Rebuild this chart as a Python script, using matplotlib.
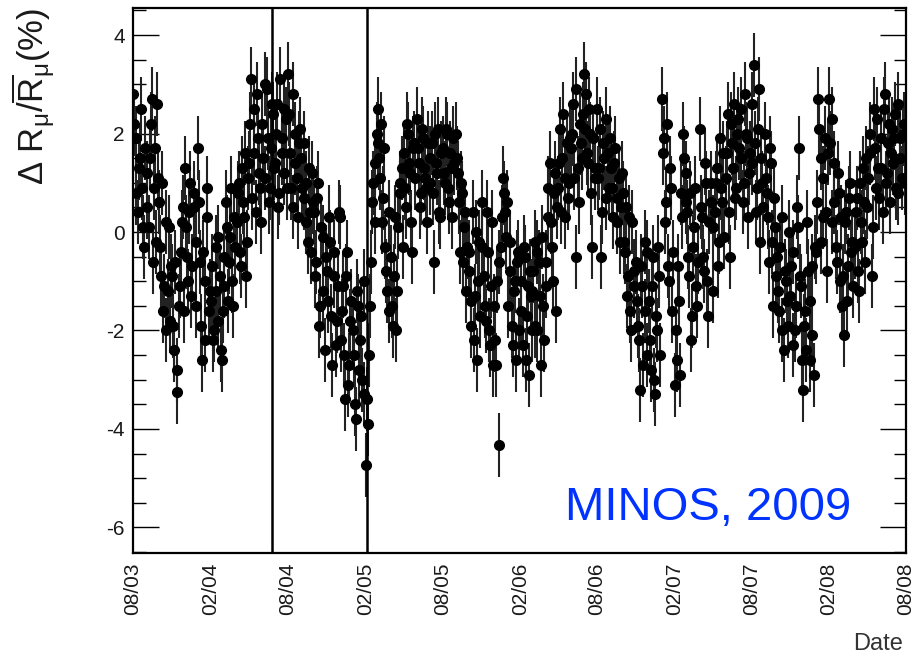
import matplotlib
matplotlib.use('Agg')
import matplotlib.pyplot as plt
import matplotlib.dates as mdates
import pandas as pd
from matplotlib.ticker import MultipleLocator

plt.rcParams['font.family'] = ['Liberation Sans', 'DejaVu Sans']
plt.rcParams['mathtext.fontset'] = 'custom'
plt.rcParams['mathtext.rm'] = 'Liberation Sans'
plt.rcParams['mathtext.it'] = 'Liberation Sans'
plt.rcParams['mathtext.default'] = 'regular'
plt.rcParams['axes.unicode_minus'] = False

# первый месяц ряда, по 6 точек на месяц в каждой серии (дни внутри месяца)
start_month = '2003-08-01'
days_a = [2, 7, 12, 17, 22, 27]
days_b = [4, 9, 14, 19, 24, 29]

# ΔR/R (%), по строке на месяц (08/03 ... 07/08)
values_a = [
    [2.8, 1.9, 0.4, 1.5, 0.9, -0.3],      # 08/03
    [1.2, 0.1, 2.2, -0.6, 1.7, 2.6],
    [0.6, -0.9, -1.6, 0.2, -1.2, -1.8],
    [-0.9, -2.4, -3.25, -1.5, -0.4, 0.5],
    [1.3, -0.5, 0.4, -1.3, 0.8, -0.2],
    [1.7, -0.6, -2.6, -1.0, 0.3, -1.6],   # 01/04
    [-1.4, -2.2, -0.3, -1.8, -0.9, -2.6],
    [-0.5, 0.6, -1.4, -0.1, -1.0, 0.3],
    [0.2, 1.0, -0.7, 0.6, 1.6, -0.2],
    [1.4, 3.1, 2.5, 0.4, 1.9, 0.9],
    [2.2, 1.1, 2.9, 0.6, 1.7, 2.4],
    [1.4, 2.6, 0.8, 1.9, 1.2, 2.3],
    [3.2, 1.6, 0.5, 2.0, 1.1, 1.8],       # 08/04
    [1.5, 0.7, 1.0, -0.2, 0.4, 1.2],
    [0.4, -0.6, 1.0, -1.5, -0.1, -2.4],
    [-0.8, 0.3, -1.7, -0.4, -2.3, -1.1],
    [0.3, -1.6, -2.5, -0.9, -3.1, -1.8],
    [-2.0, -3.5, -1.2, -2.8, -1.7, -3.3],  # 01/05
    [-4.74, -3.9, -1.5, 0.6, 1.4, 2.0],
    [2.5, 1.1, 0.2, 1.7, -0.8, -1.6],
    [-0.5, -1.9, 0.3, -1.2, 0.8, 1.3],
    [1.6, 0.5, 2.0, 1.2, -0.4, 1.8],
    [2.3, 1.4, 0.8, 1.9, 1.1, 0.2],
    [1.0, 1.8, -0.6, 1.4, 2.1, 0.3],
    [1.7, 1.0, 2.0, 0.6, 1.3, 1.9],       # 08/05
    [2.0, 1.2, -0.4, 0.8, 0.1, -1.2],
    [-0.8, -1.9, 0.4, -1.3, -2.6, -0.2],
    [0.6, -0.9, -1.8, -0.4, -2.3, 0.2],
    [-1.5, -2.7, -4.33, -0.3, 1.1, 0.4],
    [0.6, -0.8, -1.9, -1.2, -2.6, -0.4],  # 01/06
    [-1.0, -2.3, -0.5, -1.7, -2.9, -1.3],
    [-1.2, -0.2, -2.0, -0.6, -2.7, -1.5],
    [-1.1, 0.3, 1.4, -0.3, 0.8, -1.6],
    [0.9, 2.1, 1.5, 0.3, 1.8, 1.0],
    [1.7, 2.6, -0.5, 1.3, 2.2, 1.5],
    [3.2, 2.8, 1.4, 2.0, -0.3, 1.1],
    [2.5, 1.3, -0.5, 1.8, 0.7, 1.6],      # 08/06
    [1.9, 0.9, 1.4, 0.2, 1.1, 0.5],
    [0.8, -0.4, -1.3, 0.3, -2.0, -0.8],
    [-0.6, -1.9, -3.2, -1.1, -0.2, -2.5],
    [-1.4, -2.8, -0.5, -3.3, -2.0, -0.9],
    [2.7, 1.9, 0.6, -0.7, 1.3, -1.6],     # 01/07
    [-3.1, -2.6, -1.4, 0.8, 2.0, 1.2],
    [0.4, -0.9, -2.2, -0.3, 0.9, -1.5],
    [2.1, 0.3, -0.8, 1.0, -1.7, 0.6],
    [-1.2, 0.4, 1.3, -0.2, 0.9, 1.6],
    [1.1, 2.4, -0.5, 1.8, 2.6, 0.9],
    [2.3, 1.5, 0.6, 2.8, 1.9, 1.2],
    [1.4, 3.4, 0.4, 2.1, -0.2, 1.0],      # 08/07
    [2.0, 0.8, -0.6, 1.4, -1.5, 0.1],
    [-0.5, -1.6, 0.3, -2.4, -1.0, -1.9],
    [-1.3, -0.4, -2.0, 0.5, 1.7, -1.1],
    [-3.2, -1.6, 0.2, -2.6, -0.7, -2.9],
    [-0.4, 2.7, 1.5, 0.3, 1.9, -0.8],     # 01/08
    [2.7, 2.3, 0.6, -0.3, 1.2, -1.0],
    [-1.5, -2.1, 0.4, -0.7, 1.0, -0.2],
    [-0.3, 0.7, -1.2, 0.2, 1.3, -0.6],
    [0.5, 1.6, -0.9, 2.5, 0.9, 1.3],
    [1.9, 0.4, 2.8, 1.2, 2.2, 1.6],
    [1.4, 2.4, 0.8, 1.9, 1.1, 2.2],
]

values_b = [
    [2.2, 0.8, 1.3, 2.5, 0.1, 1.7],       # 08/03
    [0.5, 1.5, 2.7, 0.9, -0.2, 1.1],
    [-0.3, 1.0, -1.1, -2.0, 0.1, -0.7],
    [-1.9, -0.6, -2.8, -1.1, 0.2, -1.6],
    [0.1, -1.0, 1.0, -0.7, 0.5, -1.5],
    [0.6, -1.9, -0.4, -2.2, 0.9, -1.2],   # 01/04
    [-0.7, -2.0, -1.2, -0.1, -2.4, -1.6],
    [-1.1, 0.1, -0.6, 0.9, -1.5, -0.3],
    [0.8, -0.4, 1.3, 0.3, -0.9, 1.1],
    [2.2, 0.7, 1.6, 2.8, 1.2, 0.2],
    [1.5, 3.0, 1.9, 0.9, 2.6, 1.3],
    [2.0, 0.5, 3.1, 1.6, 2.5, 0.9],
    [2.4, 0.9, 2.8, 1.4, 0.3, 2.1],       # 08/04
    [0.9, 1.8, 0.2, 1.3, -0.4, 0.6],
    [-0.9, 0.7, -1.9, 0.1, -1.2, -0.5],
    [-1.4, -0.2, -2.7, -0.9, -1.8, 0.4],
    [-2.2, -1.1, -3.4, -0.4, -2.7, -1.4],
    [-2.5, -3.8, -1.5, -2.2, -3.0, -1.0],  # 01/05
    [-3.4, -2.5, -0.6, 1.0, 0.2, 1.8],
    [1.5, 2.2, 0.7, -0.3, -1.2, 0.4],
    [-1.5, -0.9, -2.0, 0.1, 1.0, -0.3],
    [0.9, 2.2, 1.4, 0.2, 1.7, 1.1],
    [1.7, 0.5, 2.1, 1.3, 0.9, 1.8],
    [1.5, 0.8, 2.0, 1.2, 0.4, 1.6],
    [1.2, 2.1, 0.9, 1.6, 0.3, 1.4],       # 08/05
    [1.5, 0.6, 1.0, -0.6, 0.4, -0.3],
    [-0.4, -1.4, -2.2, 0.0, -1.0, -1.7],
    [-0.3, -1.5, 0.4, -2.0, -1.1, -2.7],
    [-2.2, -1.0, -0.6, 0.3, 0.8, -0.1],
    [-1.5, -0.2, -2.3, -1.0, -0.6, -2.0],  # 01/06
    [-1.6, -0.3, -2.6, -1.1, -0.8, -2.0],
    [-0.8, -1.9, -0.4, -1.3, -0.1, -2.2],
    [-0.6, 0.9, 0.2, -1.0, 1.2, 0.5],
    [1.4, 0.4, 2.4, 1.1, 0.7, 1.9],
    [2.0, 1.1, 2.9, 0.6, 1.8, 2.4],
    [2.1, 1.6, 2.5, 0.8, 1.9, 1.3],
    [1.1, 2.1, 0.4, 1.5, 2.3, 0.9],       # 08/06
    [1.3, 0.3, 1.7, 0.7, -0.2, 1.2],
    [-0.2, 0.5, -0.9, -1.6, 0.2, -1.1],
    [-1.4, -2.2, -0.7, -2.7, -1.6, -0.4],
    [-2.2, -1.1, -3.0, -1.7, -0.3, -2.5],
    [1.6, 0.2, 2.2, -1.0, 0.9, -0.4],     # 01/07
    [-2.0, -0.7, -2.9, 0.3, 1.5, 0.6],
    [-0.5, 0.8, -1.7, 0.1, -1.1, -0.6],
    [0.5, -0.5, 1.4, -1.0, 0.2, 1.0],
    [0.1, 1.0, -0.7, 1.9, 0.6, -0.1],
    [1.6, 0.4, 2.2, 1.3, 0.7, 2.0],
    [1.7, 2.5, 1.0, 2.0, 0.3, 1.6],
    [2.6, 1.8, 0.9, 2.9, 1.5, 0.5],       # 08/07
    [1.1, 0.3, 1.7, -0.2, 0.7, -0.9],
    [-1.2, -0.3, -2.0, -0.8, -1.4, 0.0],
    [-0.7, -2.3, -1.5, 0.1, -0.9, -2.6],
    [-1.9, -2.4, -0.8, -1.4, -2.1, -0.3],
    [0.6, 2.1, -0.2, 1.1, 0.4, 1.6],      # 01/08
    [1.8, 0.2, 1.4, -0.6, 0.8, 0.3],
    [-0.9, 0.2, -1.4, 0.7, -0.4, -1.1],
    [0.4, -0.8, 1.0, -0.2, 0.6, 1.5],
    [1.1, 2.0, 0.1, 1.7, 2.3, 0.7],
    [1.3, 2.5, 1.0, 1.8, 0.6, 2.1],
    [1.9, 0.9, 2.6, 1.5, 2.0, 1.0],
]
err = 0.65  # ошибка точки, %

# вертикальные линии на графике
line_dates = ['2004-06-24', '2005-02-05']


def make_dates(rows, days):
    months = pd.date_range(start_month, periods=len(rows), freq='MS')
    return [m + pd.Timedelta(days=d - 1) for m in months for d in days]


def plot(dates, vals):
    fig = plt.figure(figsize=(9.17, 6.61), dpi=100)
    ax = fig.add_axes([133 / 917, 1 - 553 / 661, 773 / 917, 545 / 661])

    ax.errorbar(dates, vals, yerr=err, fmt='o', color='black', ecolor='#222222',
                elinewidth=1.5, markersize=7, capsize=0)
    for d in line_dates:
        ax.axvline(pd.Timestamp(d), color='black', lw=1.8)

    ax.set_xlim(pd.Timestamp('2003-08-01'), pd.Timestamp('2008-08-01'))
    ax.set_ylim(-6.52, 4.55)
    ax.xaxis.set_major_locator(mdates.MonthLocator(bymonth=[2, 8]))
    ax.xaxis.set_major_formatter(mdates.DateFormatter('%m/%y'))
    ax.yaxis.set_major_locator(MultipleLocator(2))
    ax.yaxis.set_minor_locator(MultipleLocator(0.5))

    ax.tick_params(axis='x', length=0, labelrotation=90, labelsize=15, pad=7,
                   labelcolor='#1a1a1a')
    ax.tick_params(axis='y', which='major', direction='in', length=18.5, width=1,
                   right=True, labelsize=15, pad=6, labelcolor='#1a1a1a')
    ax.tick_params(axis='y', which='minor', direction='in', length=9, width=1,
                   right=True)
    for s in ax.spines.values():
        s.set_linewidth(1.6)

    fig.text(33 / 917, 1 - 8 / 661, r'$\Delta\ R_{\mu}/\overline{R}_{\mu}(\%)$',
             rotation=90, ha='center', va='top', fontsize=25, color='#1a1a1a')
    fig.text(903 / 917, 1 - 644 / 661, 'Date', ha='right', va='center',
             fontsize=17, color='#333333')
    fig.text(565 / 917, 1 - 520 / 661, 'MINOS, 2009', ha='left', va='baseline',
             fontsize=34, color='#0033ff')

    fig.savefig('out.png', dpi=100)


def main():
    dates = make_dates(values_a, days_a) + make_dates(values_b, days_b)
    vals = [v for row in values_a for v in row] + [v for row in values_b for v in row]
    plot(dates, vals)


if __name__ == '__main__':
    main()
